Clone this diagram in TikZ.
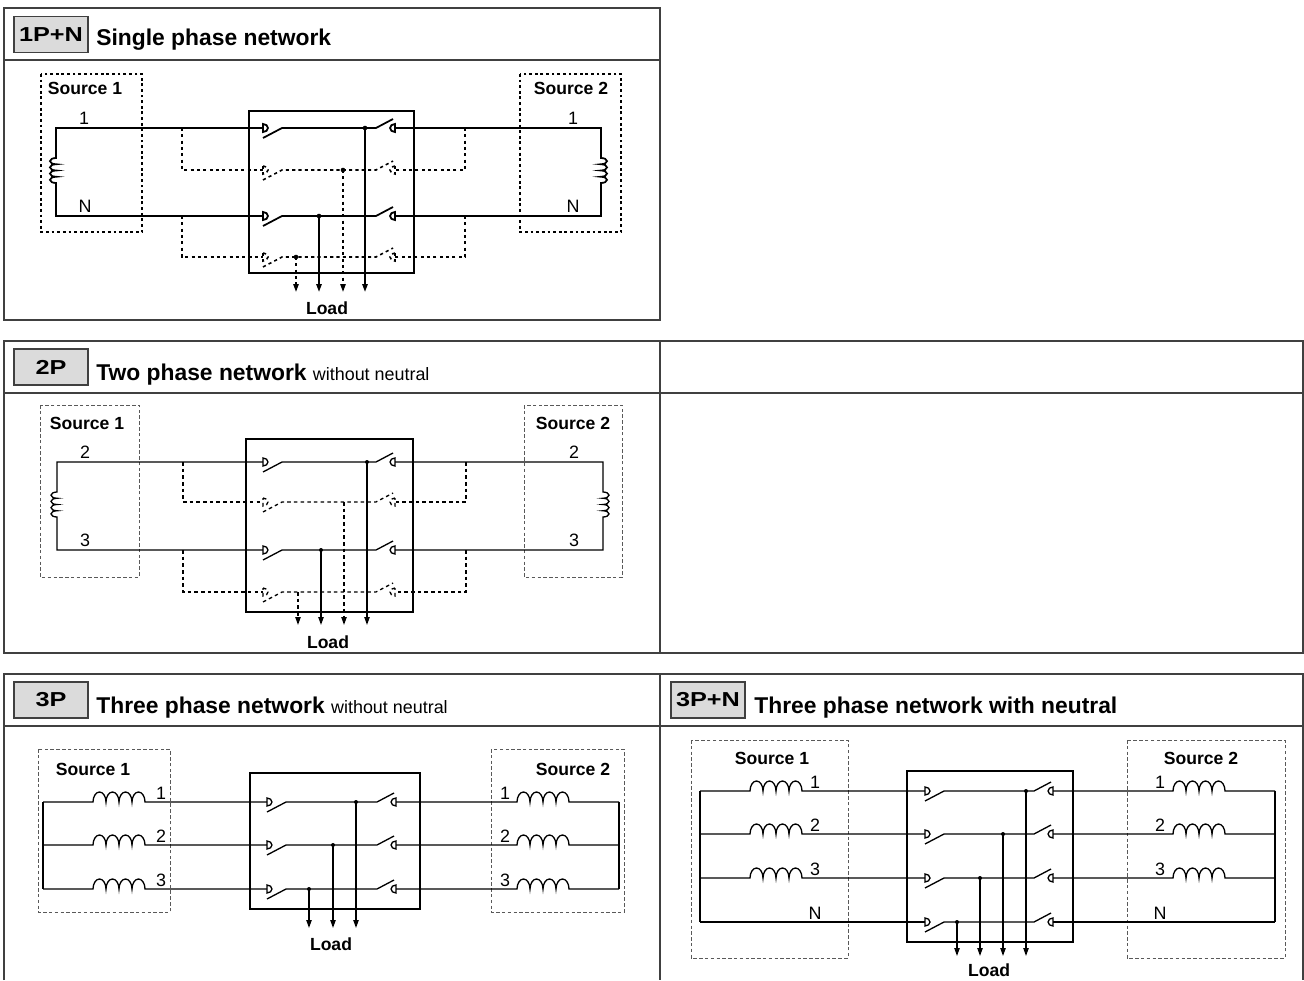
\documentclass[tikz,border=0pt]{standalone}
\usepackage{fontspec}
\setmainfont{Liberation Sans}
\usetikzlibrary{arrows.meta}
\definecolor{framegray}{gray}{0.25}
\definecolor{badgegray}{gray}{0.86}
\definecolor{boxgray}{gray}{0.35}

% one row of the transfer switch: left contact, blades, bus, right contact
\newcommand{\swrow}[4][wire]{%
  \draw[#1] (#3,#2-4) arc[start angle=-90,end angle=90,x radius=5,y radius=4] -- cycle;
  \draw[#1] (#3,#2+10) -- (#3+19,#2) -- (#4-19,#2) -- (#4-2,#2-9);
  \draw[#1] (#4,#2-4) arc[start angle=-90,end angle=-270,x radius=5,y radius=4] -- cycle;
}

\begin{document}
\begin{tikzpicture}[x=0.02cm,y=-0.02cm,
  frame/.style={draw=framegray,line width=0.8pt},
  wire/.style={line width=0.75pt},
  wirea/.style={line width=1pt},
  dashw/.style={line width=0.75pt,dash pattern=on 2pt off 1.8pt},
  dasha/.style={line width=0.9pt,dash pattern=on 1.8pt off 1.8pt},
  srcboxa/.style={line width=0.9pt,dash pattern=on 1.6pt off 1.6pt},
  srcbox/.style={draw=boxgray,line width=0.45pt,dash pattern=on 2pt off 1.3pt},
  badge/.style={draw=framegray,line width=0.8pt,fill=badgegray,minimum width=1.48cm,
    minimum height=0.72cm,inner sep=0pt,font=\fontsize{11.5}{13}\selectfont\bfseries},
  title/.style={anchor=base west,inner sep=0pt,font=\fontsize{13}{15}\selectfont\bfseries},
  src/.style={font=\fontsize{10}{12}\selectfont\bfseries,inner sep=0pt},
  num/.style={font=\fontsize{10.2}{12}\selectfont,inner sep=0pt},
  load/.style={-{Triangle[length=4.5pt,width=3pt]}}]
  \useasboundingbox (0,0) rectangle (1304,980);

  % ---------------- 1P+N
  \draw[frame] (4,8) rectangle (660,320);
  \draw[frame] (4,60) -- (660,60);
  \node[badge] (b1) at (51,34.5) {\scalebox{1.25}[1]{1P+N}};
  \node[title] (t1) at (96,46) {Single phase network};
  \draw[srcboxa] (41,74) rectangle (142,232);
  \draw[srcboxa] (520,74) rectangle (621,232);
  \node[src] (s11) at (85,88) {Source 1};
  \node[src] (s12) at (571,88) {Source 2};
  \node[num] (n11) at (84,118) {1};
  \node[num] (n1n) at (85,206) {N};
  \node[num] (n21) at (573,118) {1};
  \node[num] (n2n) at (573,206) {N};
  \draw[wirea] (263,128) -- (56,128) -- (56,158)
    \foreach \k in {1,...,4} {arc[start angle=-90,end angle=-270,x radius=6,y radius=3.125]}
    -- (56,216) -- (263,216);
  \draw[wirea] (395,128) -- (601,128) -- (601,158)
    \foreach \k in {1,...,4} {arc[start angle=-90,end angle=90,x radius=6,y radius=3.125]}
    -- (601,216) -- (395,216);
  \draw[dasha] (182,128) |- (263,170);
  \draw[dasha] (182,216) |- (263,257);
  \draw[dasha] (465,128) |- (395,170);
  \draw[dasha] (465,216) |- (395,257);
  \draw[wirea] (249,111) rectangle (414,273);
  \swrow[wirea]{128}{263}{395}
  \swrow[wirea]{216}{263}{395}
  \swrow[dasha]{170}{263}{395}
  \swrow[dasha]{257}{263}{395}
  \draw[wirea,load] (365,128) -- (365,292);
  \draw[wirea,load] (319,216) -- (319,292);
  \draw[dasha,load] (343,170) -- (343,292);
  \draw[dasha,load] (296,257) -- (296,292);
  \fill (365,128) circle (2.3);
  \fill (319,216) circle (2.3);
  \fill (343,170) circle (2.3);
  \fill (296,257) circle (2.3);
  \node[src] (ld1) at (327,308) {Load};

  % ---------------- 2P
  \draw[frame] (4,341) rectangle (1303,653);
  \draw[frame] (4,393) -- (1303,393);
  \draw[frame] (660,341) -- (660,653);
  \node[badge] (b2) at (51,367) {\scalebox{1.25}[1]{2P}};
  \node[title] (t2) at (96,380) {Two phase network {\fontsize{10.2}{12}\selectfont\mdseries without neutral}};
  \draw[srcbox] (40,405) rectangle (139,577);
  \draw[srcbox] (524,405) rectangle (622,577);
  \node[src] (s21) at (87,423) {Source 1};
  \node[src] (s22) at (573,423) {Source 2};
  \node[num] (m12) at (85,452) {2};
  \node[num] (m13) at (85,540) {3};
  \node[num] (m22) at (574,452) {2};
  \node[num] (m23) at (574,540) {3};
  \draw[wire] (263,462) -- (57,462) -- (57,492)
    \foreach \k in {1,...,4} {arc[start angle=-90,end angle=-270,x radius=6,y radius=3.125]}
    -- (57,550) -- (263,550);
  \draw[wire] (395,462) -- (603,462) -- (603,492)
    \foreach \k in {1,...,4} {arc[start angle=-90,end angle=90,x radius=6,y radius=3.125]}
    -- (603,550) -- (395,550);
  \draw[dashw] (183,462) |- (263,502);
  \draw[dashw] (183,550) |- (263,592);
  \draw[dashw] (466,462) |- (395,502);
  \draw[dashw] (466,550) |- (395,592);
  \draw[wire] (246,439) rectangle (413,612);
  \swrow{462}{263}{395}
  \swrow{550}{263}{395}
  \swrow[dashw]{502}{263}{395}
  \swrow[dashw]{592}{263}{395}
  \draw[wire,load] (367,462) -- (367,625);
  \draw[wire,load] (321,550) -- (321,625);
  \draw[dashw,load] (344,502) -- (344,625);
  \draw[dashw,load] (298,592) -- (298,625);
  \fill (367,462) circle (2);
  \fill (321,550) circle (2);
  \node[src] (ld2) at (328,642) {Load};

  % ---------------- 3P and 3P+N frames
  \draw[frame] (4,980) -- (4,674) -- (1303,674) -- (1303,980);
  \draw[frame] (4,726) -- (1303,726);
  \draw[frame] (660,674) -- (660,980);

  % ---------------- 3P
  \node[badge] (b3) at (51,700) {\scalebox{1.25}[1]{3P}};
  \node[title] (t3) at (96,713) {Three phase network {\fontsize{10.2}{12}\selectfont\mdseries without neutral}};
  \draw[srcbox] (38,749) rectangle (170,912);
  \draw[srcbox] (491,749) rectangle (624,912);
  \node[src] (s31) at (93,769) {Source 1};
  \node[src] (s32) at (573,769) {Source 2};
  \draw[wire] (43,802) -- (43,889);
  \draw[wire] (619,802) -- (619,889);
  \foreach \y/\n in {802/1,845/2,889/3} {
    \draw[wire] (43,\y) -- (93,\y)
      \foreach \k in {1,...,4} {arc[start angle=180,end angle=360,x radius=6.5,y radius=10]}
      -- (267,\y);
    \draw[wire] (396,\y) -- (517,\y)
      \foreach \k in {1,...,4} {arc[start angle=180,end angle=360,x radius=6.5,y radius=10]}
      -- (619,\y);
    \node[num] (p1\n) at (161,\y-9) {\n};
    \node[num] (p2\n) at (505,\y-9) {\n};
    \swrow{\y}{267}{396}
  }
  \draw[wire] (250,773) rectangle (420,909);
  \foreach \y/\x in {802/356,845/333,889/309} {
    \draw[wire,load] (\x,\y) -- (\x,928);
    \fill (\x,\y) circle (2);
  }
  \node[src] (ld3) at (331,944) {Load};

  % ---------------- 3P+N
  \node[badge] (b4) at (708,700) {\scalebox{1.25}[1]{3P+N}};
  \node[title] (t4) at (754,713) {Three phase network with neutral};
  \draw[srcbox] (691,740) rectangle (848,958);
  \draw[srcbox] (1127,740) rectangle (1285,958);
  \node[src] (s41) at (772,758) {Source 1};
  \node[src] (s42) at (1201,758) {Source 2};
  \draw[wire] (700,791) -- (700,922);
  \draw[wire] (1275,791) -- (1275,922);
  \foreach \y/\n in {791/1,834/2,878/3} {
    \draw[wire] (700,\y) -- (750,\y)
      \foreach \k in {1,...,4} {arc[start angle=180,end angle=360,x radius=6.5,y radius=10]}
      -- (925,\y);
    \draw[wire] (1053,\y) -- (1173,\y)
      \foreach \k in {1,...,4} {arc[start angle=180,end angle=360,x radius=6.5,y radius=10]}
      -- (1275,\y);
    \node[num] (q1\n) at (815,\y-9) {\n};
    \node[num] (q2\n) at (1160,\y-9) {\n};
  }
  \draw[wire] (700,922) -- (925,922);
  \draw[wire] (1053,922) -- (1275,922);
  \node[num] (q1n) at (815,913) {N};
  \node[num] (q2n) at (1160,913) {N};
  \draw[wire] (907,771) rectangle (1073,942);
  \foreach \y/\x in {791/1026,834/1003,878/980,922/957} {
    \swrow{\y}{925}{1053}
    \draw[wire,load] (\x,\y) -- (\x,956);
    \fill (\x,\y) circle (2);
  }
  \node[src] (ld4) at (989,970) {Load};
\end{tikzpicture}
\end{document}
